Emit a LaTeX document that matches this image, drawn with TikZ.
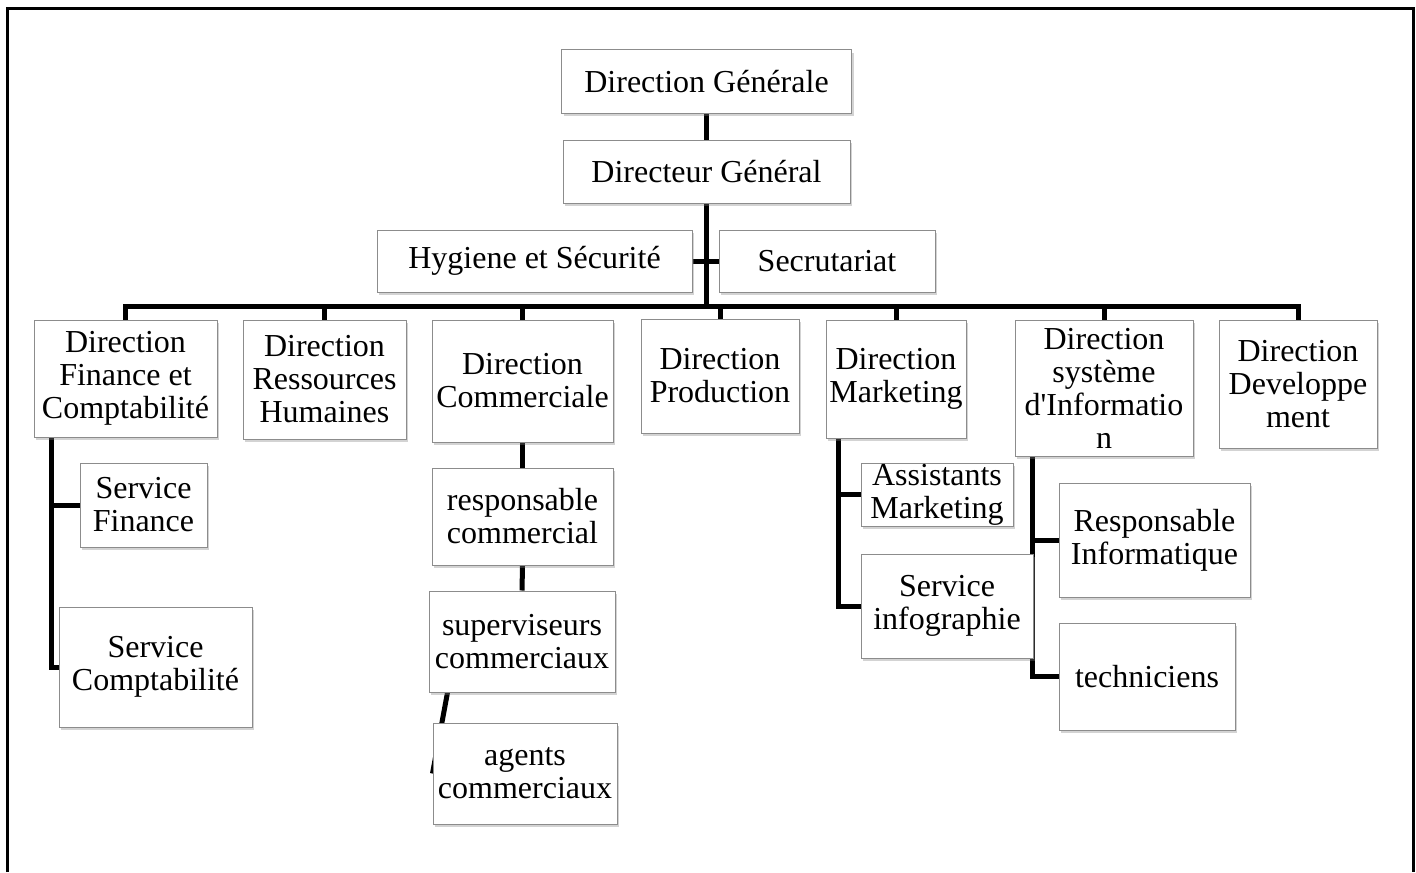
\documentclass[tikz,border=0pt]{standalone}
\usepackage{fontspec}
\setmainfont{Liberation Serif}[Ligatures=TeXOff]
\usepackage{tikz}
\usetikzlibrary{calc,positioning,shadows,backgrounds}

\begin{document}
\begin{tikzpicture}[
  x=0.5pt, y=-0.5pt,
  every node/.style={align=center, inner sep=0},
  box/.style={draw=black!45, line width=0.5pt, fill=white,
    font=\fontsize{16}{16.5}\selectfont,
    drop shadow={shadow xshift=1pt, shadow yshift=-1.5pt, opacity=0.35}},
  link/.style={line width=2.5pt},
  frame/.style={line width=1.5pt}
]
\useasboundingbox (0,0) rectangle (1416,872);
\draw[frame] (7,872) -- (7,9) -- (1413,9) -- (1413,872);

\node[box, minimum width=145pt, minimum height=31.5pt] (dg) at (706.5,81.5) {Direction Générale};
\node[box, minimum width=143.5pt, minimum height=31.5pt] (dgr) at (706.5,171.5) {Directeur Général};
\node[box, minimum width=157.5pt, minimum height=31pt] (hyg) at (534.5,261) {Hygiene et Sécurité};
\node[box, minimum width=108pt, minimum height=31pt] (sec) at (827,261) {Secrutariat};

\node[box, minimum width=91.5pt, minimum height=58.5pt] (dfc) at (125.5,378.5) {Direction\\Finance et\\Comptabilité};
\node[box, minimum width=81.5pt, minimum height=59.5pt] (drh) at (324.5,379.5) {Direction\\Ressources\\Humaines};
\node[box, minimum width=90.5pt, minimum height=61pt] (dcom) at (522.5,381) {Direction\\Commerciale};
\node[box, minimum width=79pt, minimum height=57pt] (dprod) at (720,376) {Direction\\Production};
\node[box, minimum width=70pt, minimum height=59pt] (dmkt) at (896,379) {Direction\\Marketing};
\node[box, minimum width=89pt, minimum height=68pt] (dsi) at (1104,388) {Direction\\système\\d'Informatio\\n};
\node[box, minimum width=79pt, minimum height=64pt] (ddev) at (1298,384) {Direction\\Developpe\\ment};

\node[box, minimum width=63.5pt, minimum height=42pt] (sfin) at (143.5,505) {Service\\Finance};
\node[box, minimum width=96.5pt, minimum height=60pt] (scpt) at (155.5,667) {Service\\Comptabilité};

\node[box, minimum width=90.5pt, minimum height=48.5pt] (rcom) at (522.5,516.5) {responsable\\commercial};
\node[box, minimum width=93pt, minimum height=50.5pt] (sup) at (522,641.5) {superviseurs\\commerciaux};
\node[box, minimum width=92pt, minimum height=50.5pt] (agt) at (525,773.5) {agents\\commerciaux};

\node[box, minimum width=76pt, minimum height=31.5pt] (amkt) at (937,494.5) {Assistants\\Marketing};
\node[box, minimum width=86pt, minimum height=52pt] (sinfo) at (947,606) {Service\\infographie};

\node[box, minimum width=95.5pt, minimum height=57pt] (rinf) at (1154.5,540) {Responsable\\Informatique};
\node[box, minimum width=88pt, minimum height=53.5pt] (tech) at (1147,676.5) {techniciens};

\coordinate (bus) at (dgr.south |- 0,306);

\begin{scope}[on background layer]
\draw[link] (dg.south) -- (dgr.north);
\draw[link] (dgr.south) -- (bus);
\draw[link] (hyg.east) -- (sec.west);
\foreach \d in {dfc,drh,dcom,dprod,dmkt,dsi,ddev}
  \draw[link] (\d.north) |- (bus);
\draw[link] ([xshift=9pt]dfc.south west) |- (sfin.west);
\draw[link] ([xshift=9pt]dfc.south west) |- (scpt.west);
\draw[link] (dcom.south) -- (rcom.north);
\draw[link] (rcom.south) -- (sup.north);
\draw[link] ([xshift=9.5pt]sup.south west) -- (agt.west);
\draw[link] ([xshift=6.5pt]dmkt.south west) |- (amkt.west);
\draw[link] ([xshift=6.5pt]dmkt.south west) |- (sinfo.west);
\draw[link] ([xshift=9pt]dsi.south west) |- (rinf.west);
\draw[link] ([xshift=9pt]dsi.south west) |- (tech.west);
\end{scope}
\end{tikzpicture}
\end{document}
